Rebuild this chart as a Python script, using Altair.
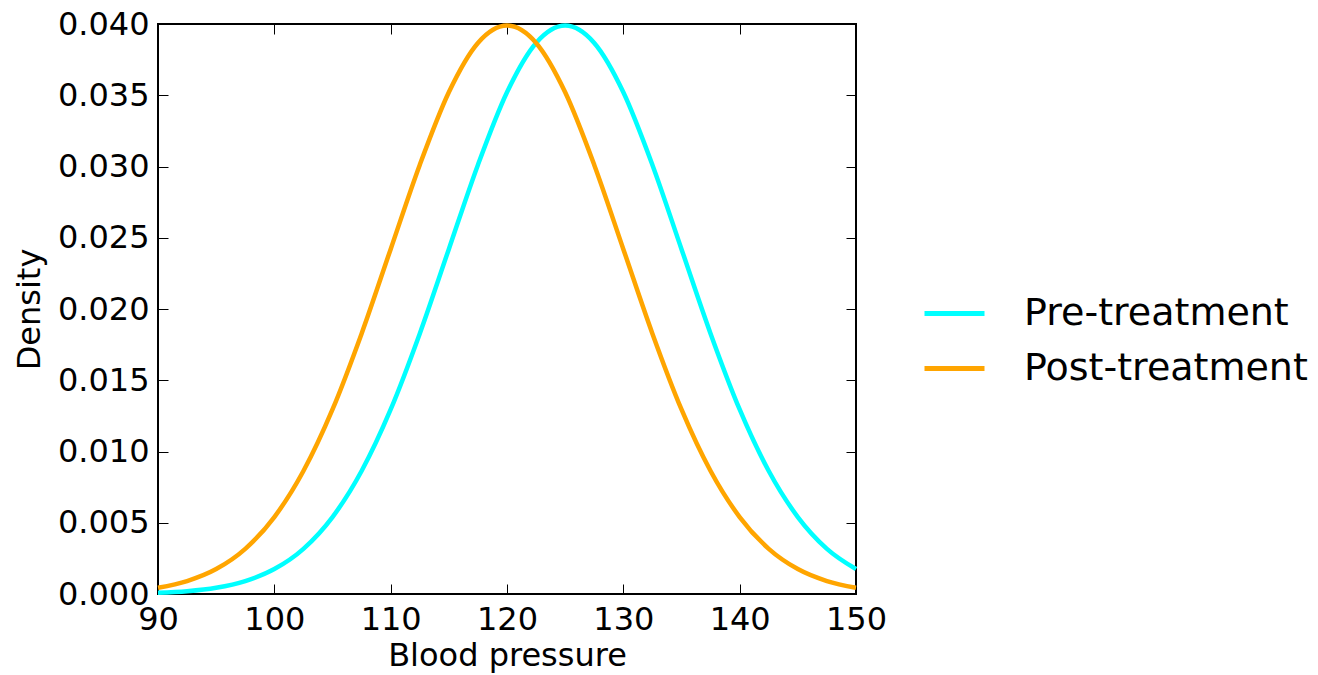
import altair as alt
import pandas as pd

# Blood pressure grid (x positions at which the curves were read)
bp = [90, 92.5, 95, 97.5, 100, 102.5, 105, 107.5, 110, 112.5, 115, 117.5, 120,
      122.5, 125, 127.5, 130, 132.5, 135, 137.5, 140, 142.5, 145, 147.5, 150]

# Density readings
pre = [0.00009, 0.00020, 0.00044, 0.00091, 0.00175, 0.00317, 0.00540, 0.00863,
       0.01295, 0.01827, 0.02420, 0.03011, 0.03521, 0.03867, 0.03989, 0.03867,
       0.03521, 0.03011, 0.02420, 0.01827, 0.01295, 0.00863, 0.00540, 0.00317, 0.00175]
post = [0.00044, 0.00091, 0.00175, 0.00317, 0.00540, 0.00863, 0.01295, 0.01827,
        0.02420, 0.03011, 0.03521, 0.03867, 0.03989, 0.03867, 0.03521, 0.03011,
        0.02420, 0.01827, 0.01295, 0.00863, 0.00540, 0.00317, 0.00175, 0.00091, 0.00044]

series = ["Pre-treatment", "Post-treatment"]
colors = ["#00FFFF", "#FFA500"]

x_ticks = [90, 100, 110, 120, 130, 140, 150]
y_ticks = [0.000, 0.005, 0.010, 0.015, 0.020, 0.025, 0.030, 0.035, 0.040]

rows = []
for name, vals in zip(series, [pre, post]):
    for xv, yv in zip(bp, vals):
        rows.append({"bp": xv, "density": yv, "series": name})
df = pd.DataFrame(rows)

FONT = "DejaVu Sans"
xscale = alt.Scale(domain=[90, 150], nice=False, zero=False)
yscale = alt.Scale(domain=[0, 0.04], nice=False)

main = alt.Chart(df).mark_line(strokeWidth=4.5, interpolate="monotone").encode(
    x=alt.X("bp:Q", scale=xscale, title="Blood pressure",
            axis=alt.Axis(values=x_ticks, format="d", orient="bottom", offset=-10,
                          tickSize=10, tickWidth=1, tickColor="black", domain=False,
                          labelFlush=False, labelPadding=10, labelFontSize=32,
                          labelFont=FONT, labelColor="black", titleFont=FONT,
                          titleFontSize=32, titleFontWeight="normal",
                          titleColor="black", titlePadding=5, grid=False)),
    y=alt.Y("density:Q", scale=yscale, title="Density",
            axis=alt.Axis(values=y_ticks, format=".3f", orient="left", offset=-10,
                          tickSize=10, tickWidth=1, tickColor="black", domain=False,
                          labelFlush=False, labelPadding=9, labelFontSize=32,
                          labelFont=FONT, labelColor="black", titleFont=FONT,
                          titleFontSize=32, titleFontWeight="normal",
                          titleColor="black", titlePadding=11, grid=False)),
    color=alt.Color("series:N", scale=alt.Scale(domain=series, range=colors),
                    sort=series,
                    legend=alt.Legend(title=None, orient="none", legendX=764,
                                      legendY=257, symbolType="stroke",
                                      symbolSize=3600, symbolStrokeWidth=5,
                                      labelFontSize=38, labelFont=FONT,
                                      labelColor="black", labelOffset=37,
                                      labelLimit=0, rowPadding=3, padding=0)),
)

ghost = alt.Chart(df).mark_line(opacity=0).encode(
    x=alt.X("bp:Q", scale=xscale, title=None,
            axis=alt.Axis(values=x_ticks, orient="top", offset=-10, tickSize=10,
                          tickWidth=1, tickColor="black", domain=False,
                          labels=False, grid=False)),
    y=alt.Y("density:Q", scale=yscale, title=None,
            axis=alt.Axis(values=y_ticks, orient="right", offset=-10, tickSize=10,
                          tickWidth=1, tickColor="black", domain=False,
                          labels=False, grid=False)),
    detail="series:N",
)

chart = alt.layer(main, ghost).resolve_axis(x="independent", y="independent").properties(
    width=698, height=570,
    background="white",
    autosize=alt.AutoSizeParams(type="none"),
    padding={"left": 150, "top": 16, "right": 454, "bottom": 80},
).configure_view(stroke="black", strokeWidth=2)

chart.save("out.html", embed_options={"renderer": "svg", "actions": False})
